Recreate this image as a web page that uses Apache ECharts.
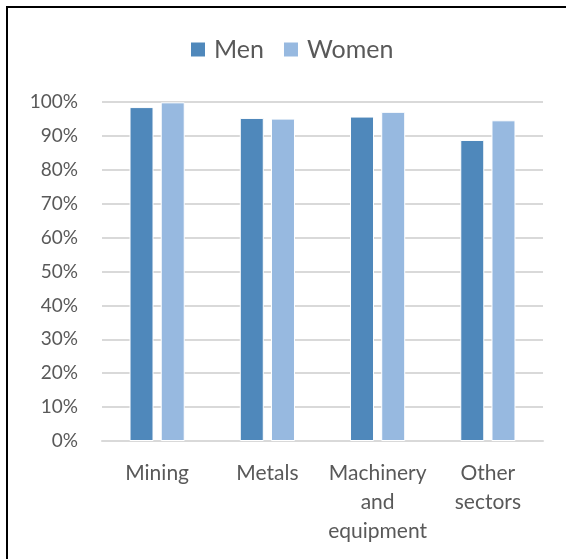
<!DOCTYPE html>
<html>
<head>
<meta charset="utf-8">
<script src="https://cdn.jsdelivr.net/npm/echarts@6/dist/echarts.min.js"></script>
<style>
    html, body { margin: 0; padding: 0; background: #fff; }
    #frame {
        position: absolute; left: 6px; top: 6px; right: 0; bottom: 0;
        border-top: 2px solid #000; border-left: 2px solid #000;
    }
    #barChart { position: absolute; left: 0; top: 0; width: 566px; height: 559px; }
</style>
</head>
<body>
<div id="frame"></div>
<div id="barChart"></div>
<script>
    // 数据
    var categories = ['Mining', 'Metals', 'Machinery\nand\nequipment', 'Other\nsectors']
    var menValues = [98.5, 95.3, 95.7, 88.8]
    var womenValues = [99.9, 95.1, 97.1, 94.6]
    var tickLabels = ['0%', '10%', '20%', '30%', '40%', '50%', '60%', '70%', '80%', '90%', '100%']

    var font = 'Lato, "Open Sans", sans-serif'
    var barChart = echarts.init(document.getElementById('barChart'))
    barChart.setOption({
        animation: false,
        grid: {
            left: 102,
            right: 23,
            top: 102,
            bottom: 118
        },
        color: ['#4f88bb', '#97b9e0'],
        legend: {
            data: ['Men', 'Women'],
            top: 32,
            left: 184,
            icon: 'rect',
            itemWidth: 16,
            itemHeight: 16,
            itemGap: 18,
            textStyle: { fontFamily: font, fontSize: 25, color: '#595959', padding: [0, 0, 0, 3] }
        },
        xAxis: [{
            type: 'category',
            data: categories,
            axisLine: { lineStyle: { color: '#d9d9d9', width: 2 } },
            axisTick: { show: false },
            axisLabel: {
                interval: 0,
                margin: 18,
                fontFamily: font,
                fontSize: 21,
                lineHeight: 29,
                color: '#595959'
            }
        }],
        yAxis: [{
            type: 'value',
            min: 0,
            max: 100,
            interval: 10,
            axisLine: { show: false },
            axisTick: { show: false },
            splitLine: { lineStyle: { color: '#d9d9d9', width: 2 } },
            axisLabel: {
                margin: 24,
                fontFamily: font,
                fontSize: 19,
                color: '#595959',
                formatter: function (v) { return tickLabels[Math.round(v / 10)] }
            }
        }],
        series: [{
            name: 'Men',
            type: 'bar',
            barWidth: 24,
            barGap: '30%',
            itemStyle: { borderColor: '#fff', borderWidth: 1 },
            data: menValues
        }, {
            name: 'Women',
            type: 'bar',
            barWidth: 24,
            barGap: '30%',
            itemStyle: { borderColor: '#fff', borderWidth: 1 },
            data: womenValues
        }]
    })
</script>
</body>
</html>
